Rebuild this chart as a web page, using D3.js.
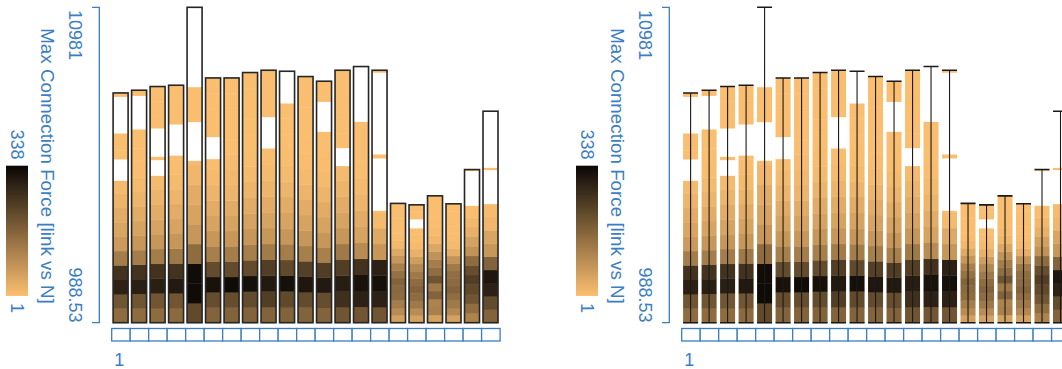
<!DOCTYPE html>
<html>
<head>
<meta charset="utf-8">
<script src="https://cdn.jsdelivr.net/npm/d3@7"></script>
<style>
  body { margin: 0; background: #fff; }
  svg { display: block; font-family: "Liberation Sans", Arial, sans-serif; }
</style>
</head>
<body>
<svg width="1062" height="369"></svg>
<script>
// one bar per link, 16 force bins each (bottom -> top), colour = count
var categories = d3.range(1, 22);
var forceMin = 988.53;
var forceMax = 10981;
var tickLabels = ['10981', '988.53'];
var countRange = [1, 338];
var yTitle = 'Max Connection Force [link vs N]';

var barMax = [8268, 8354, 8471, 8512, 10981, 8743, 8743, 8914, 8987, 8955, 8787,
  8639, 8987, 9104, 8987, 4768, 4723, 5008, 4755, 5840, 7689];

var binCounts = [
  [153, 196, 291, 260, 122, 68, 48, 35, 21, 11, 4, 3, 3, 2, 2, 2],
  [153, 196, 294, 260, 122, 75, 52, 35, 21, 11, 4, 3, 3, 2, 2, 2],
  [153, 193, 294, 260, 122, 75, 52, 35, 21, 11, 4, 3, 2, 2, 2, 2],
  [156, 193, 304, 260, 129, 75, 52, 35, 21, 11, 4, 3, 2, 2, 2, 2],
  [217, 331, 328, 153, 75, 52, 35, 18, 8, 4, 3, 3, 3, 2, 1, 1],
  [170, 210, 318, 213, 119, 75, 52, 35, 21, 11, 4, 3, 2, 2, 2, 2],
  [170, 210, 331, 213, 122, 75, 52, 35, 21, 14, 8, 3, 2, 2, 2, 2],
  [170, 213, 321, 213, 119, 75, 52, 35, 21, 11, 4, 3, 2, 2, 2, 2],
  [170, 237, 304, 237, 126, 75, 52, 35, 21, 11, 4, 3, 2, 2, 2, 2],
  [170, 217, 321, 217, 122, 75, 52, 35, 21, 11, 4, 3, 2, 2, 2, 2],
  [170, 213, 308, 234, 119, 75, 52, 35, 21, 11, 4, 3, 2, 2, 2, 2],
  [170, 210, 304, 240, 116, 75, 52, 35, 21, 11, 4, 3, 2, 2, 2, 2],
  [196, 264, 298, 237, 129, 75, 52, 35, 21, 11, 4, 3, 2, 2, 2, 2],
  [193, 291, 318, 260, 95, 52, 35, 21, 11, 4, 3, 2, 2, 2, 2, 2],
  [193, 291, 321, 291, 75, 41, 11, 4, 3, 3, 3, 3, 3, 3, 3, 3],
  [58, 95, 122, 153, 159, 170, 143, 116, 75, 41, 14, 4, 3, 3, 3, 3],
  [55, 95, 129, 153, 170, 153, 129, 102, 62, 28, 11, 4, 3, 3, 3, 3],
  [55, 116, 109, 170, 129, 196, 149, 122, 82, 45, 18, 8, 4, 3, 3, 3],
  [55, 102, 129, 149, 170, 156, 149, 129, 82, 31, 11, 4, 3, 3, 3, 3],
  [112, 149, 193, 217, 237, 210, 153, 82, 55, 28, 14, 4, 3, 3, 3, 3],
  [170, 213, 291, 308, 170, 75, 48, 18, 8, 4, 3, 3, 3, 3, 3, 3]
];

// force ranges with no samples
var gaps = [
  [[5483, 6160], [6983, 8142]],
  [[7110, 8173]],
  [[5641, 6138], [6243, 7141]],
  [[6281, 7268]],
  [[6116, 7341], [8449, 10981]],
  [[6170, 6866]],
  [],
  [],
  [[6508, 7499]],
  [[7933, 8955]],
  [],
  [[7034, 7983]],
  [[5948, 6518]],
  [[7350, 9104]],
  [[4533, 6192], [6318, 8908]],
  [],
  [[3976, 4261]],
  [],
  [],
  [[4692, 5790]],
  [[4745, 5822], [5894, 7689]]
];

var blue = '#3b7ec2';
var svg = d3.select('svg');

var x = d3.scaleBand().domain(categories).range([111.7, 500.1]);
var y = d3.scaleLinear().domain([forceMin, forceMax]).range([322.7, 7.3]);
var color = d3.scaleLinear().domain(countRange).range(['#fbbf71', '#0a0705'])
  .interpolate(d3.interpolateRgb);

var grad = svg.append('defs').append('linearGradient')
  .attr('id', 'cbar').attr('x1', 0).attr('y1', 1).attr('x2', 0).attr('y2', 0);
d3.range(0, 1.01, 0.1).forEach(function (t) {
  grad.append('stop').attr('offset', t)
    .attr('stop-color', color(countRange[0] + t * (countRange[1] - countRange[0])));
});

var bars = categories.map(function (c, i) {
  var step = (barMax[i] - forceMin) / binCounts[i].length;
  return {
    id: c,
    max: barMax[i],
    gaps: gaps[i],
    bins: binCounts[i].map(function (n, j) {
      return { lo: forceMin + j * step, hi: forceMin + (j + 1) * step, n: n };
    })
  };
});

function rotText(g, px, py, anchor, txt, size) {
  g.append('text')
    .attr('transform', 'translate(' + px + ',' + py + ') rotate(90)')
    .attr('text-anchor', anchor)
    .attr('fill', blue)
    .style('font-size', size + 'px')
    .text(txt);
}

function drawPanel(offset, whiskers) {
  var g = svg.append('g').attr('transform', 'translate(' + offset + ',0)');

  // colour bar
  g.append('rect').attr('x', 6).attr('y', 165.7).attr('width', 22).attr('height', 130.3)
    .attr('fill', 'url(#cbar)');
  rotText(g, 10.5, 129.5, 'start', String(countRange[1]), 18);
  rotText(g, 10.5, 313, 'end', String(countRange[0]), 18);

  rotText(g, 40.5, 166, 'middle', yTitle, 18.8);
  rotText(g, 68.5, 10, 'start', tickLabels[0], 18);
  rotText(g, 68.5, 322.5, 'end', tickLabels[1], 18);

  g.append('path')
    .attr('d', 'M92,' + y(forceMax) + 'H99.3V' + y(forceMin) + 'H92')
    .attr('fill', 'none').attr('stroke', blue).attr('stroke-width', 1.3);

  // category boxes
  g.selectAll('.box').data(categories).enter().append('rect')
    .attr('class', 'box')
    .attr('x', function (d) { return x(d); })
    .attr('y', 328.5)
    .attr('width', x.bandwidth())
    .attr('height', 12.5)
    .attr('fill', '#fff').attr('stroke', blue).attr('stroke-width', 1.3);
  g.append('text').attr('x', x(categories[0]) + 7.5).attr('y', 365.5)
    .attr('text-anchor', 'middle').attr('fill', blue).style('font-size', '18px')
    .text(categories[0]);

  var bw = 15;
  var bx = function (d) { return x(d.id) + 1.4; };

  var bar = g.selectAll('.bar').data(bars).enter().append('g').attr('class', 'bar');

  bar.selectAll('.cell').data(function (d) {
    return d.bins.map(function (b) { return { b: b, x: bx(d) }; });
  }).enter().append('rect')
    .attr('x', function (d) { return d.x; })
    .attr('y', function (d) { return y(d.b.hi); })
    .attr('width', bw)
    .attr('height', function (d) { return y(d.b.lo) - y(d.b.hi) + 0.4; })
    .attr('fill', function (d) { return color(d.b.n); });

  bar.selectAll('.gap').data(function (d) {
    return d.gaps.map(function (r) { return { r: r, x: bx(d) }; });
  }).enter().append('rect')
    .attr('x', function (d) { return d.x - 0.5; })
    .attr('y', function (d) { return y(d.r[1]); })
    .attr('width', bw + 1)
    .attr('height', function (d) { return y(d.r[0]) - y(d.r[1]); })
    .attr('fill', '#fff');

  if (!whiskers) {
    bar.append('rect')
      .attr('x', bx)
      .attr('y', function (d) { return y(d.max); })
      .attr('width', bw)
      .attr('height', function (d) { return y(forceMin) - y(d.max); })
      .attr('fill', 'none').attr('stroke', '#262626').attr('stroke-width', 1.6);
  } else {
    bar.append('path')
      .attr('d', function (d) {
        var xc = bx(d) + bw / 2;
        return 'M' + xc + ',' + y(forceMin) + 'V' + y(d.max);
      })
      .attr('fill', 'none').attr('stroke', '#1a1a1a').attr('stroke-width', 1.1);
    bar.append('path')
      .attr('d', function (d) {
        var x0 = bx(d);
        return 'M' + x0 + ',' + y(d.max) + 'H' + (x0 + bw) +
          'M' + x0 + ',' + y(forceMin) + 'H' + (x0 + bw);
      })
      .attr('fill', 'none').attr('stroke', '#1a1a1a').attr('stroke-width', 1.6);
  }
}

drawPanel(0, false);
drawPanel(570, true);
</script>
</body>
</html>
